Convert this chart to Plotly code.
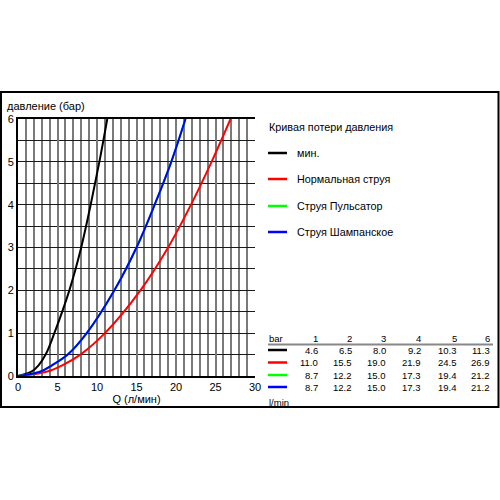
import plotly.graph_objects as go

# ---- data ----
pressure_bar = [1, 2, 3, 4, 5, 6]
series_names = ["мин.", "Нормальная струя", "Струя Пульсатор", "Струя Шампанское"]
series_colors = ["#000000", "#ff0000", "#00ff00", "#0000ff"]
flow_min = [4.6, 6.5, 8.0, 9.2, 10.3, 11.3]
flow_normal = [11.0, 15.5, 19.0, 21.9, 24.5, 26.9]
flow_pulsator = [8.7, 12.2, 15.0, 17.3, 19.4, 21.2]
flow_champagne = [8.7, 12.2, 15.0, 17.3, 19.4, 21.2]
series_flows = [flow_min, flow_normal, flow_pulsator, flow_champagne]
# low-pressure readings of the curves (Q at 0, 0.1, 0.25, 0.5 bar)
low_p = [0, 0.1, 0.25, 0.5]
low_q = [[0, 1.7, 2.6, 3.5], [0, 3.6, 5.6, 7.9], [0, 2.8, 4.3, 6.3], [0, 2.8, 4.3, 6.3]]
x_ticks = [0, 5, 10, 15, 20, 25, 30]
y_ticks = [0, 1, 2, 3, 4, 5, 6]

FONT = "Arial, Liberation Sans, sans-serif"

fig = go.Figure()
for name, col, fl, lq in zip(series_names, series_colors, series_flows, low_q):
    fig.add_trace(go.Scatter(
        x=lq + fl, y=low_p + pressure_bar, mode="lines", name=name,
        line=dict(color=col, width=2, shape="spline", smoothing=1.0),
        showlegend=False, hoverinfo="skip"))

L, R, T, B = 18, 255, 119, 376
W = R - L
H = B - T


def px(x):
    return (x - L) / W


def py(y):
    return (B - y) / H


fig.update_layout(
    width=500, height=500,
    margin=dict(l=L, r=500 - R, t=T, b=500 - B, pad=0),
    paper_bgcolor="white", plot_bgcolor="white",
    font=dict(family=FONT, size=11, color="#000"),
    xaxis=dict(range=[0, 30], tickvals=x_ticks, showgrid=True, automargin=False,
               gridcolor="#7a7a7a", gridwidth=2,
               minor=dict(dtick=1, showgrid=True, gridcolor="#7a7a7a", gridwidth=2),
               showline=True, linecolor="#000", linewidth=2, mirror=True,
               ticks="", zeroline=False, tickfont=dict(size=11, family=FONT),
               title=dict(text="Q (л/мин)", font=dict(size=11, family=FONT), standoff=2)),
    yaxis=dict(range=[0, 6], tickvals=y_ticks, showgrid=True, automargin=False,
               gridcolor="#1a1a1a", gridwidth=1.3,
               minor=dict(dtick=0.5, showgrid=True, gridcolor="#1a1a1a", gridwidth=1.3),
               showline=True, linecolor="#000", linewidth=2,
               ticks="", zeroline=False, tickfont=dict(size=11, family=FONT)),
)

shapes = []
ann = []
# outer frame
shapes.append(dict(type="rect", xref="paper", yref="paper",
                   x0=px(1), x1=px(498.5), y0=py(407), y1=py(92),
                   line=dict(color="#000", width=2), fillcolor="rgba(0,0,0,0)", layer="above"))
# y title
ann.append(dict(text="давление (бар)", x=px(5), y=py(106), xref="paper", yref="paper",
                xanchor="left", yanchor="middle", showarrow=False, font=dict(size=11)))
# legend
LF = 10.8
ann.append(dict(text="Кривая потери давления", x=px(267), y=py(127), xref="paper", yref="paper",
                xanchor="left", yanchor="middle", showarrow=False, font=dict(size=LF)))
leg_y = [153, 179, 206, 232]
for name, col, yy in zip(series_names, series_colors, leg_y):
    shapes.append(dict(type="line", xref="paper", yref="paper", x0=px(268), x1=px(287),
                       y0=py(yy), y1=py(yy), line=dict(color=col, width=2.5)))
    ann.append(dict(text=name, x=px(295), y=py(yy), xref="paper", yref="paper",
                    xanchor="left", yanchor="middle", showarrow=False, font=dict(size=LF)))
# table
TF = 9.5
col_x = [320, 354, 388, 423, 459, 492]
ann.append(dict(text="bar", x=px(267), y=py(338), xref="paper", yref="paper",
                xanchor="left", yanchor="middle", showarrow=False, font=dict(size=TF)))
for p, cx in zip(pressure_bar, col_x):
    ann.append(dict(text=str(p), x=px(cx), y=py(338), xref="paper", yref="paper",
                    xanchor="right", yanchor="middle", showarrow=False, font=dict(size=TF)))
shapes.append(dict(type="line", xref="paper", yref="paper", x0=px(268), x1=px(493),
                   y0=py(344.5), y1=py(344.5), line=dict(color="#888", width=2)))
row_y = [350, 362.5, 375, 387]
for col, fl, ry in zip(series_colors, series_flows, row_y):
    shapes.append(dict(type="line", xref="paper", yref="paper", x0=px(268), x1=px(287),
                       y0=py(ry), y1=py(ry), line=dict(color=col, width=2.5)))
    for v, cx in zip(fl, col_x):
        ann.append(dict(text=f"{v:.1f}", x=px(cx), y=py(ry), xref="paper", yref="paper",
                        xanchor="right", yanchor="middle", showarrow=False, font=dict(size=TF)))
ann.append(dict(text="l/min", x=px(267), y=py(402), xref="paper", yref="paper",
                xanchor="left", yanchor="middle", showarrow=False, font=dict(size=TF)))

fig.update_layout(shapes=shapes, annotations=ann)
fig.write_html("out.html", config={"displayModeBar": False},
               post_script="document.body.style.margin='0';document.body.style.overflow='hidden';")
